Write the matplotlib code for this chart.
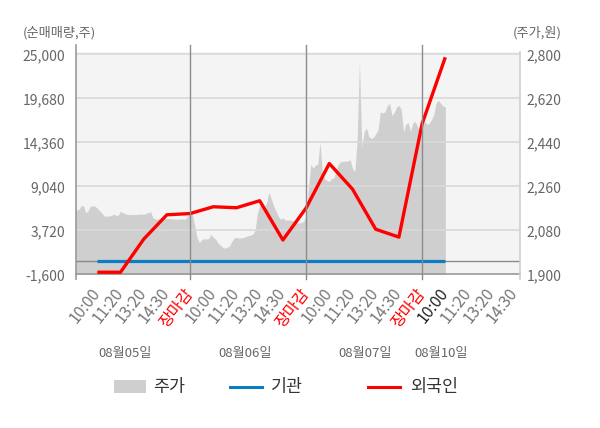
import numpy as np
import matplotlib
matplotlib.use("Agg")
import matplotlib.pyplot as plt
from matplotlib.patches import Rectangle
from matplotlib.lines import Line2D
import matplotlib.transforms as mtransforms

# x tick labels (one slot per label, 장마감 closes each day)
tick_labels = ["10:00", "11:20", "13:20", "14:30", "장마감",
               "10:00", "11:20", "13:20", "14:30", "장마감",
               "10:00", "11:20", "13:20", "14:30", "장마감",
               "10:00", "11:20", "13:20", "14:30"]
day_labels = ["08월05일", "08월06일", "08월07일", "08월10일"]

# net buying (주), one point per labelled slot 1..16
institution = [0, 0, 0, 0, 0, 0, 0, 0, 0, 0, 0, 0, 0, 0, 0, 0]
foreign = [-1350, -1350, 2650, 5600, 5750, 6570, 6450, 7300,
           2550, 6420, 11800, 8700, 3850, 2900, 16600, 24650]

# intraday price (원), sampled every 0.1 slot
day1_price = [2163, 2163, 2165, 2180, 2182, 2152, 2160, 2178, 2180, 2179,
              2170, 2160, 2150, 2138, 2138, 2139, 2140, 2147, 2141, 2142,
              2158, 2152, 2148, 2145, 2145, 2144, 2145, 2145, 2146, 2147,
              2145, 2149, 2153, 2156, 2130, 2126, 2126, 2127, 2126, 2128,
              2129, 2128, 2127, 2126, 2126, 2125, 2127, 2126, 2126, 2140,
              2158]
day2_price = [2145, 2098, 2050, 2030, 2042, 2046, 2044, 2047, 2063, 2051,
              2044, 2028, 2020, 2010, 2007, 2011, 2016, 2035, 2049, 2051,
              2048, 2049, 2051, 2055, 2058, 2060, 2064, 2080, 2150, 2182,
              2183, 2172, 2195, 2236, 2208, 2180, 2160, 2138, 2125, 2132,
              2122, 2122, 2122, 2120, 2115, 2111, 2110, 2112, 2118, 2140]
day3_price = [2250, 2350, 2334, 2347, 2350, 2440, 2315, 2290, 2284, 2280,
              2292, 2295, 2325, 2352, 2361, 2362, 2363, 2364, 2368, 2334,
              2320, 2450, 2770, 2420, 2483, 2500, 2465, 2456, 2460, 2475,
              2490, 2565, 2560, 2565, 2590, 2600, 2550, 2562, 2585, 2592,
              2575, 2483, 2515, 2520, 2485, 2520, 2525, 2505, 2488, 2500]
day4_price = [2528, 2515, 2516, 2532, 2552, 2600, 2612, 2600, 2588, 2586]

left_ticks = [-1600, 3720, 9040, 14360, 19680, 25000]
right_ticks = [1900, 2080, 2260, 2440, 2620, 2800]


def main():
    plt.rcParams['font.family'] = ['Noto Sans CJK KR', 'DejaVu Sans']

    fig = plt.figure(figsize=(6.0, 4.28), dpi=100)
    ax2 = fig.add_axes([0.1262, 0.3591, 0.7405, 0.5201])
    ax = ax2.twinx()
    ax.set_zorder(ax2.get_zorder() + 1)
    ax.patch.set_visible(False)
    ax2.set_facecolor('#f4f4f4')

    price = np.array(day1_price + day2_price + day3_price + day4_price)
    px = np.arange(len(price)) * 0.1
    ax2.fill_between(px, 1800, price, color='#cfcfcf', lw=0)

    slots = np.arange(1, len(foreign) + 1)
    ax.plot(slots, institution, color='#0b7dc4', lw=2.3, solid_capstyle='butt')
    ax.plot(slots, foreign, color='#ff0000', lw=2.4, solid_capstyle='butt')

    xlim = (0.07, 19.22)
    for a in (ax, ax2):
        a.set_xlim(*xlim)
        for s in a.spines.values():
            s.set_visible(False)

    # the two axes line up: -1,600 .. 25,000 and 1,900 .. 2,800
    ax.set_ylim(-1600, 25326)
    ax2.set_ylim(1900, 2811)

    # left scale is drawn on the right-hand twin, so move its ticks over
    ax.yaxis.tick_left()
    ax2.yaxis.tick_right()
    ax.set_yticks(left_ticks)
    ax.set_yticklabels([f"{v:,}" for v in left_ticks])
    ax2.set_yticks(right_ticks)
    ax2.set_yticklabels([f"{v:,}" for v in right_ticks])
    ax.tick_params(axis='y', length=0, pad=7.7, labelsize=10, labelcolor='#666666')
    ax2.tick_params(axis='y', length=0, pad=4.8, labelsize=10, labelcolor='#666666')

    for v in left_ticks[1:]:
        ax.axhline(v, color='#d9d9d9', lw=1.2, zorder=0.5)
    ax.axhline(0, color='#8a8a8a', lw=1.0, zorder=0.6)
    ax.axhline(-1600, color='#999999', lw=1.2, zorder=0.6, clip_on=False)

    lo, hi = -5 / 222.6, 1 + 7 / 222.6
    ax.axvline(xlim[0], ymin=lo, ymax=hi, color='#999999', lw=1.2, clip_on=False)
    ax.axvline(xlim[1], ymin=lo, ymax=1.0, color='#cfcfcf', lw=1.2, clip_on=False)
    for d in (5, 10, 15):
        ax.axvline(d, ymin=lo, ymax=hi, color='#8c8c8c', lw=1.0, clip_on=False)

    # x labels live on the base axes (the twin hides its x axis)
    ax2.set_xticks(np.arange(1, len(tick_labels) + 1))
    ax2.set_xticklabels(tick_labels, rotation=52, ha='right', va='center',
                        rotation_mode='anchor')
    ax2.tick_params(axis='x', length=0, pad=11.5, labelsize=11.5)
    for i, t in enumerate(ax2.get_xticklabels()):
        if tick_labels[i] == "장마감":
            t.set_color('#ff0000')
        elif i == 15:
            t.set_color('#222222')
        else:
            t.set_color('#777777')

    trans = mtransforms.blended_transform_factory(ax.transData, fig.transFigure)
    day_label_x = [2.19, 7.36, 12.56, 15.82]
    for xx, lab in zip(day_label_x, day_labels):
        ax.text(xx, 0.1752, lab, transform=trans, ha='center', va='center',
                fontsize=9.5, color='#666666')

    fig.text(22.7 / 600, 0.923, "(순매매량,주)", ha='left', va='center',
             fontsize=9.5, color='#666666')
    fig.text(561.7 / 600, 0.923, "(주가,원)", ha='right', va='center',
             fontsize=9.5, color='#666666')

    # legend drawn by hand to keep the original spacing
    ly = 0.0965
    fig.add_artist(Rectangle((114.3 / 600, ly - 6.5 / 428), 31.7 / 600, 13 / 428,
                             transform=fig.transFigure, color='#cfcfcf', lw=0))
    fig.text(153.3 / 600, ly, "주가", ha='left', va='center', fontsize=12.5, color='#333333')
    fig.add_artist(Line2D([230 / 600, 261.7 / 600], [ly, ly], transform=fig.transFigure,
                          color='#0b7dc4', lw=2.2))
    fig.text(270.7 / 600, ly, "기관", ha='left', va='center', fontsize=12.5, color='#333333')
    fig.add_artist(Line2D([368.3 / 600, 400 / 600], [ly, ly], transform=fig.transFigure,
                          color='#ff0000', lw=2.2))
    fig.text(410 / 600, ly, "외국인", ha='left', va='center', fontsize=12.5, color='#333333')

    fig.savefig('out.png', dpi=100)


if __name__ == '__main__':
    main()
